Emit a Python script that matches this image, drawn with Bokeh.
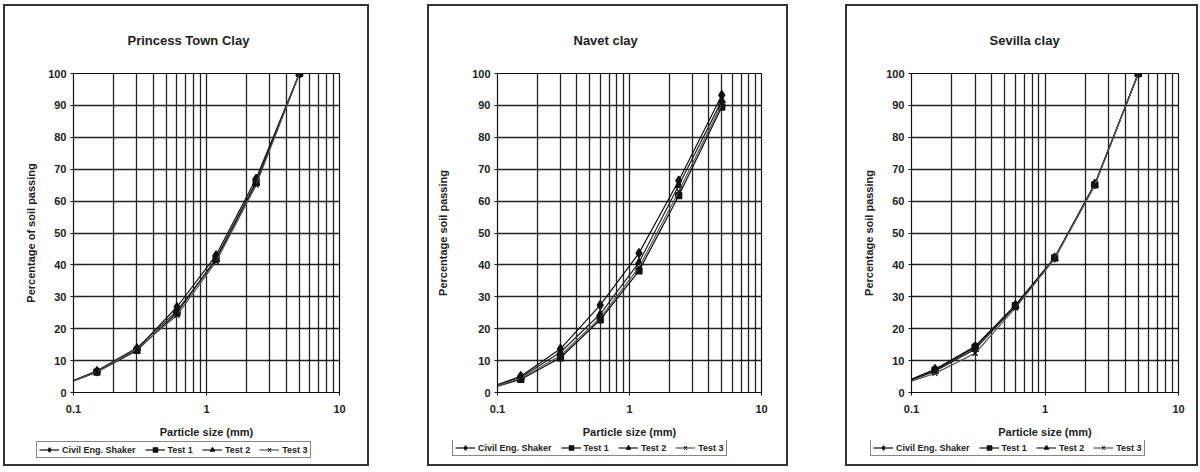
from bokeh.plotting import figure
from bokeh.layouts import row, column
from bokeh.models import (Range1d, FixedTicker, Legend, LegendItem, Spacer,
                          CustomJSTickFormatter)
from bokeh.embed import file_html
from bokeh.resources import INLINE

# ---------------- data ----------------
sieve_mm = [0.075, 0.15, 0.3, 0.6, 1.18, 2.36, 5.0]
series_names = ["Civil Eng. Shaker", "Test 1", "Test 2", "Test 3"]

princes_shaker = [1.6, 6.6, 13.6, 26.8, 43.0, 67.0, 100.0]
princes_test1 = [1.6, 6.4, 13.2, 25.0, 42.0, 66.0, 100.0]
princes_test2 = [1.6, 6.8, 14.0, 25.6, 41.6, 65.6, 100.0]
princes_test3 = [1.6, 6.5, 13.6, 24.2, 41.0, 65.0, 100.0]

navet_shaker = [0.6, 5.1, 13.7, 27.4, 43.7, 66.4, 93.2]
navet_test1 = [0.5, 4.1, 10.9, 22.8, 38.1, 61.7, 89.5]
navet_test2 = [0.6, 4.8, 12.6, 24.6, 40.8, 64.9, 91.5]
navet_test3 = [0.5, 4.4, 11.6, 23.4, 39.2, 63.0, 90.4]

sevilla_shaker = [2.0, 7.3, 14.5, 27.4, 42.3, 65.4, 100.0]
sevilla_test1 = [2.0, 7.0, 14.2, 27.2, 42.2, 65.1, 100.0]
sevilla_test2 = [1.9, 6.7, 13.6, 27.0, 42.0, 65.0, 100.0]
sevilla_test3 = [1.8, 6.0, 12.3, 26.5, 42.0, 65.0, 100.0]

titles = ["Princess Town Clay", "Navet clay", "Sevilla clay"]
y_labels = ["Percentage of soil passing", "Percentage soil passing", "Percentage soil passing"]
x_label = "Particle size (mm)"

x_ticks = [0.1, 1, 10]
x_tick_labels = ["0.1", "1", "10"]
x_grid_ticks = [m * 10.0 ** e for e in (-1, 0) for m in range(1, 10)] + [10.0]
y_ticks = list(range(0, 101, 10))

FONT = "Liberation Sans"
markers = ["diamond", "square", "triangle", "x"]
marker_sizes = [9, 6, 7, 7]
line_colors = ["#111111", "#111111", "#222222", "#555555"]

# ---------------- layout specs ----------------
# (width, border_left, border_right, title_offset, ylabel_standoff, legend_x, legend_y)
specs = [
    (366, 70, 30, 54, 8, 33, 8),
    (361, 70, 27, 76, 20, 25, 10),
    (353, 66, 20, 78, 8, 25, 10),
]
MAIN_H = 436
LEG_H = 26
BORDER_TOP = 69
BORDER_BOTTOM = 48
EDGE = "#333333"
datasets = [
    [princes_shaker, princes_test1, princes_test2, princes_test3],
    [navet_shaker, navet_test1, navet_test2, navet_test3],
    [sevilla_shaker, sevilla_test1, sevilla_test2, sevilla_test3],
]


def make_panel(i):
    w, bl, br, toff, ystand, legx, legy = specs[i]
    p = figure(width=w, height=MAIN_H, x_axis_type="log",
               x_range=Range1d(0.1, 10), y_range=Range1d(0, 100),
               output_backend="svg", toolbar_location=None,
               min_border_left=bl, min_border_right=br,
               min_border_top=BORDER_TOP, min_border_bottom=BORDER_BOTTOM,
               title=titles[i])
    p.styles = {"box-shadow": f"inset 2px 0 0 {EDGE}, inset -2px 0 0 {EDGE}, inset 0 2px 0 {EDGE}"}
    p.background_fill_color = "white"
    p.border_fill_color = None
    p.outline_line_color = "#111111"
    p.outline_line_width = 1.2

    p.title.align = "left"
    p.title.offset = toff
    p.title.standoff = 52
    p.title.text_font = FONT
    p.title.text_font_size = "13px"
    p.title.text_font_style = "bold"
    p.title.text_color = "#222222"

    # grids
    p.xgrid.ticker = FixedTicker(ticks=x_grid_ticks)
    p.xgrid.grid_line_color = "#222222"
    p.xgrid.grid_line_width = 1.3
    p.ygrid.ticker = FixedTicker(ticks=y_ticks)
    p.ygrid.grid_line_color = "#222222"
    p.ygrid.grid_line_width = 1.3

    # axes
    p.xaxis.ticker = FixedTicker(ticks=x_ticks)
    p.xaxis.formatter = CustomJSTickFormatter(
        args=dict(xt=x_ticks, xl=x_tick_labels),
        code="const i = xt.findIndex(t => Math.abs(t - tick) < 1e-9 * Math.max(1, t)); return i >= 0 ? xl[i] : '';")
    p.yaxis.ticker = FixedTicker(ticks=y_ticks)
    for ax in (p.xaxis[0], p.yaxis[0]):
        ax.axis_line_color = "#111111"
        ax.major_tick_line_color = "#111111"
        ax.major_tick_out = 3
        ax.major_tick_in = 0
        ax.minor_tick_out = 0
        ax.minor_tick_in = 0
        ax.major_label_text_font = FONT
        ax.major_label_text_font_size = "11px"
        ax.major_label_text_font_style = "bold"
        ax.major_label_text_color = "#222222"
        ax.axis_label_text_font = FONT
        ax.axis_label_text_font_size = "11px"
        ax.axis_label_text_font_style = "bold"
        ax.axis_label_text_color = "#222222"
    p.xaxis.axis_label = x_label
    p.xaxis.major_label_standoff = 9
    p.xaxis.axis_label_standoff = 10
    p.yaxis.axis_label = y_labels[i]
    p.yaxis.major_label_standoff = 4
    p.yaxis.axis_label_standoff = ystand

    for k, ys in enumerate(datasets[i]):
        p.line(sieve_mm, ys, line_color=line_colors[k], line_width=1.2)
        p.scatter(sieve_mm, ys, marker=markers[k], size=marker_sizes[k],
                  fill_color="#111111", line_color="#111111", line_width=1.3)

    # legend strip below the chart (its own small figure, part of the same box);
    # the series are drawn again here out of view so that the legend shows their glyphs
    lg = figure(width=w, height=LEG_H, x_range=Range1d(0, 1), y_range=Range1d(-2, -1),
                output_backend="svg", toolbar_location=None,
                min_border=0, x_axis_location=None, y_axis_location=None)
    lg.styles = {"box-shadow": f"inset 2px 0 0 {EDGE}, inset -2px 0 0 {EDGE}, inset 0 -2px 0 {EDGE}"}
    lg.grid.visible = False
    lg.outline_line_color = None
    lg.background_fill_color = None
    lg.border_fill_color = None
    items = []
    for k, ys in enumerate(datasets[i]):
        ln = lg.line(sieve_mm, ys, line_color=line_colors[k], line_width=1.2)
        sc = lg.scatter(sieve_mm, ys, marker=markers[k], size=marker_sizes[k] - 1,
                        fill_color="#111111", line_color="#111111", line_width=1.2)
        items.append(LegendItem(label=series_names[k], renderers=[ln, sc]))
    legend = Legend(items=items, orientation="horizontal", location=(legx, legy))
    legend.label_text_font = FONT
    legend.label_text_font_size = "9px"
    legend.label_text_font_style = "bold"
    legend.label_text_color = "#222222"
    legend.glyph_width = 20
    legend.glyph_height = 11
    legend.label_standoff = 3
    legend.label_height = 11
    legend.spacing = 9
    legend.padding = 2
    legend.margin = 0
    legend.border_line_color = "#111111"
    legend.border_line_width = 1.5
    legend.background_fill_color = "white"
    legend.background_fill_alpha = 1.0
    lg.add_layout(legend, "center")
    return p, lg


(p1, l1), (p2, l2), (p3, l3) = make_panel(0), make_panel(1), make_panel(2)

charts = row(Spacer(width=3, height=MAIN_H), p1, Spacer(width=58, height=MAIN_H), p2,
             Spacer(width=57, height=MAIN_H), p3)
legends = row(Spacer(width=3, height=LEG_H), l1, Spacer(width=58, height=LEG_H), l2,
              Spacer(width=57, height=LEG_H), l3)
layout = column(Spacer(width=10, height=4), charts, legends)
open("out.html", "w").write(file_html(layout, INLINE))
